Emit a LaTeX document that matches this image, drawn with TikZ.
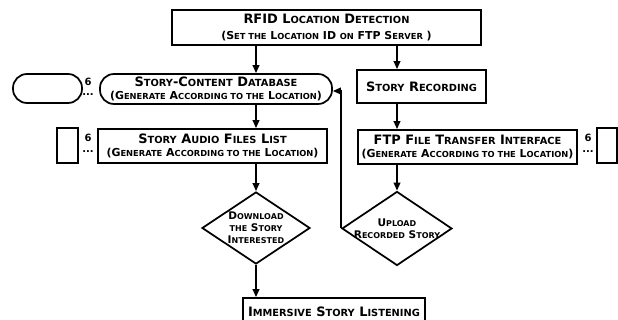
\documentclass[tikz,border=0pt]{standalone}
\usepackage{fontspec}
\setmainfont{DejaVu Sans}
\usetikzlibrary{shapes.geometric, arrows.meta, positioning}
\makeatletter
\newcommand\smc[1]{{\fontsize{\fpeval{0.76*\f@size}}{0}\selectfont\MakeUppercase{#1}}}
\makeatother
\newcommand\subl[1]{{\fontsize{8.2}{9}\selectfont #1}}

\begin{document}
\begin{tikzpicture}[x=0.75pt, y=-0.75pt,
  box/.style={rectangle, draw, line width=1.3pt, align=center, inner sep=1pt,
    font=\fontsize{9.7}{11}\bfseries},
  pill/.style={box, rounded corners=10.5pt},
  dia/.style={diamond, draw, line width=1.3pt, align=center, inner sep=-14pt,
    font=\fontsize{7.9}{9}\bfseries},
  num/.style={font=\fontsize{7.5}{8}\bfseries, inner sep=0pt},
  arr/.style={-{Triangle[width=5pt, length=6pt]}, line width=1.2pt},
]
  \useasboundingbox (0,0) rectangle (618,320);
  % top row
  \node[box, minimum width=231.75pt, minimum height=26.25pt] (rfid) at (326.5,27.5)
    {RFID L\smc{ocation} D\smc{etection}\\[1pt]\subl{(S\smc{et the} L\smc{ocation} ID \smc{on} FTP S\smc{erver} )}};
  % left column
  \node[pill, minimum width=174pt, minimum height=22.5pt] (db) at (216,89)
    {S\smc{tory}-C\smc{ontent} D\smc{atabase}\\[-1pt]\subl{(G\smc{enerate} A\smc{ccording to the} L\smc{ocation})}};
  \node[pill, minimum width=51.75pt, minimum height=21.75pt] (dbmore) at (47.5,88.5) {};
  \node[box, minimum width=171.75pt, minimum height=25.5pt] (al) at (212.5,146)
    {S\smc{tory} A\smc{udio} F\smc{iles} L\smc{ist}\\[-1pt]\subl{(G\smc{enerate} A\smc{ccording to the} L\smc{ocation})}};
  \node[box, minimum width=15.75pt, minimum height=26.25pt] (almore) at (67.5,145.5) {};
  \node[dia, minimum width=81pt, minimum height=54pt] (dl) at (256,228)
    {D\smc{ownload}\\\smc{the} S\smc{tory}\\I\smc{nterested}};
  \node[box, minimum width=136.5pt, minimum height=21pt] (imm) at (334,312)
    {I\smc{mmersive} S\smc{tory} L\smc{istening}};
  % right column
  \node[box, minimum width=96.75pt, minimum height=24.75pt] (rec) at (421.5,86.5)
    {S\smc{tory} R\smc{ecording}};
  \node[box, minimum width=164.25pt, minimum height=25.5pt] (ftp) at (467.5,147)
    {FTP F\smc{ile} T\smc{ransfer} I\smc{nterface}\\[-1pt]\subl{(G\smc{enerate} A\smc{ccording to the} L\smc{ocation})}};
  \node[box, minimum width=15pt, minimum height=26.25pt] (ftpmore) at (607,145.5) {};
  \node[dia, minimum width=82.5pt, minimum height=55.5pt] (ul) at (397,228.5)
    {U\smc{pload}\\R\smc{ecorded} S\smc{tory}};
  % counts
  \node[num] (n1) at (88,82) {6};
  \node[num] (d1) at (88,95) {...};
  \node[num] (n2) at (88,138) {6};
  \node[num] (d2) at (88,152) {...};
  \node[num] (n3) at (588,138) {6};
  \node[num] (d3) at (588,152) {...};
  % flow
  \draw[arr] (rfid.south -| dl) -- (db.north -| dl);
  \draw[arr] (db.south -| dl) -- (al.north -| dl);
  \draw[arr] (al.south -| dl) -- (dl.north);
  \draw[arr] (dl.south) -- (imm.north -| dl);
  \draw[arr] (rfid.south -| ul) -- (rec.north -| ul);
  \draw[arr] (rec.south -| ul) -- (ftp.north -| ul);
  \draw[arr] (ftp.south -| ul) -- (ul.north);
  \draw[arr] (ul.west) |- ([yshift=-1.5pt]db.east);
\end{tikzpicture}
\end{document}
